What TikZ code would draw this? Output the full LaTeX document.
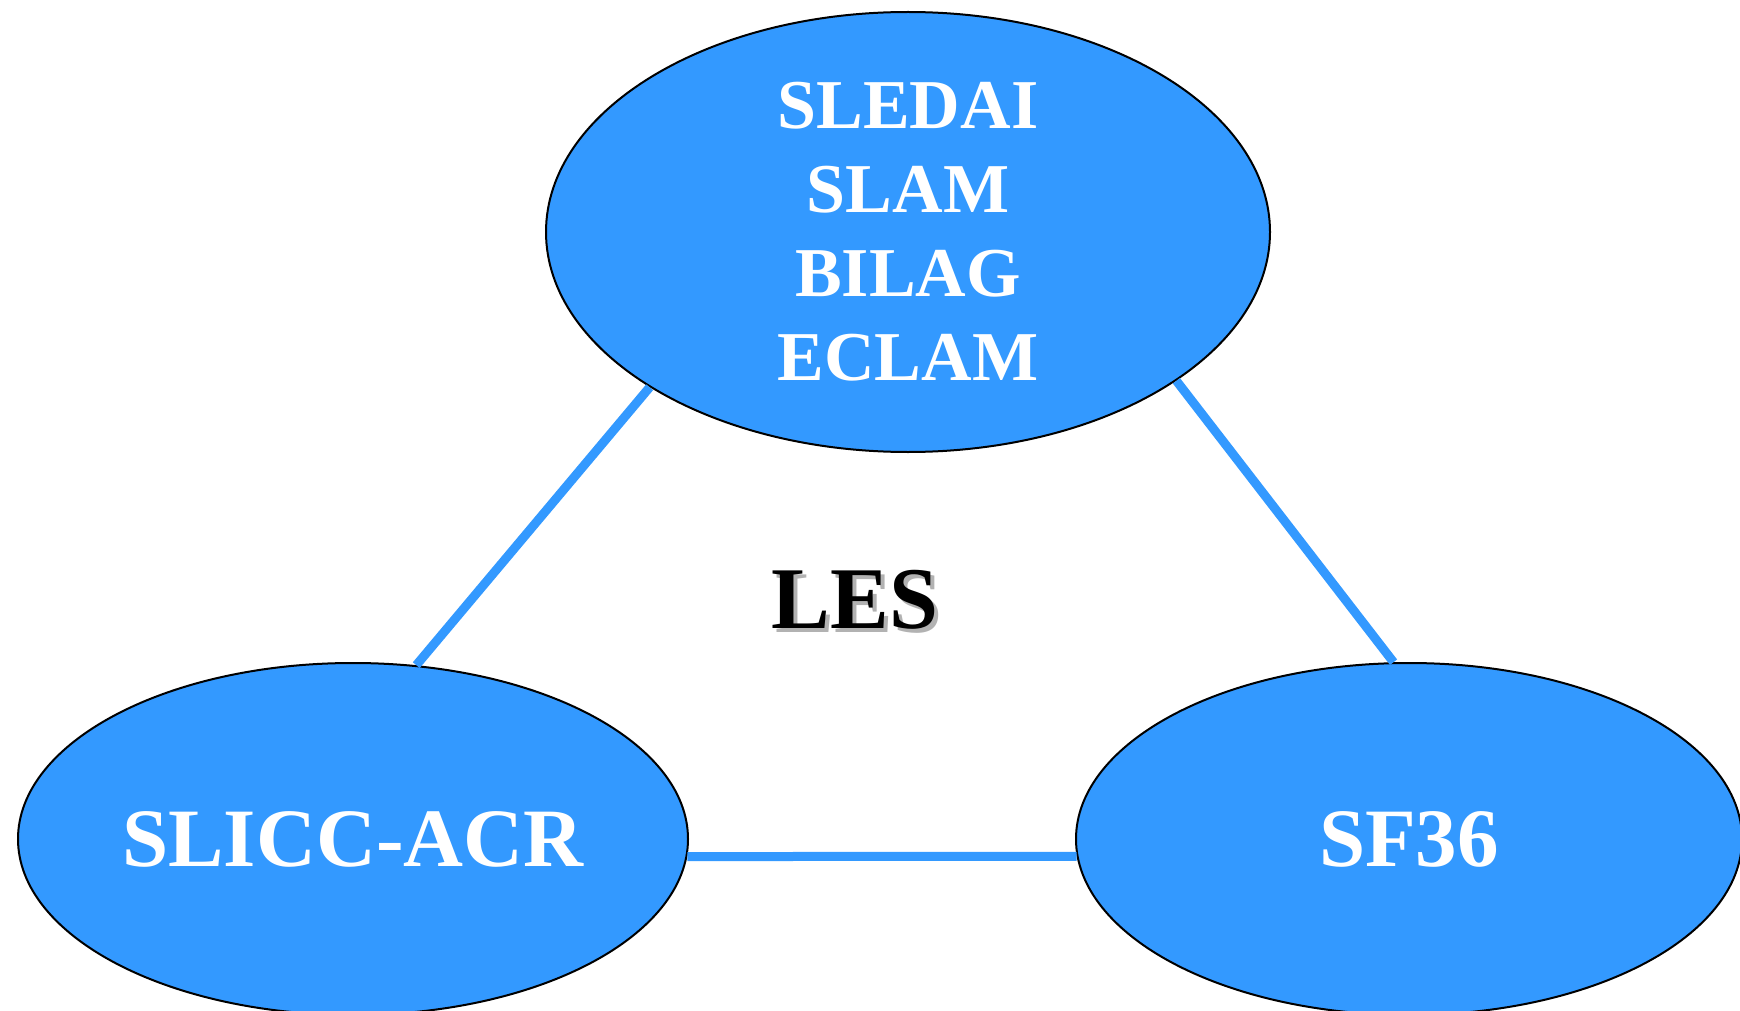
\documentclass[tikz,border=0pt]{standalone}
\usepackage{fontspec}
\setmainfont{Liberation Serif}
\usetikzlibrary{shapes.geometric}
\definecolor{bub}{HTML}{3399FF}
\tikzset{
  bubble/.style={ellipse, draw=black, line width=2pt, fill=bub, inner sep=0pt, text=white, font=\bfseries, align=center},
  link/.style={draw=bub, line width=9pt}
}
\begin{document}
\begin{tikzpicture}[x=1pt,y=-1pt]
\useasboundingbox (0,0) rectangle (1740,1011);
\begin{scope}
\clip (0,0) rectangle (1740,1011);
\node[bubble, minimum width=724pt, minimum height=440pt, font=\fontsize{70}{84}\selectfont\bfseries] (top) at (908,232) {SLEDAI\\SLAM\\BILAG\\ECLAM};
\node[bubble, minimum width=670pt, minimum height=352pt, font=\fontsize{83}{96}\selectfont\bfseries] (left) at (353,839) {SLICC-ACR};
\node[bubble, minimum width=666pt, minimum height=352pt, font=\fontsize{83}{96}\selectfont\bfseries] (right) at (1409,839) {SF36};
\end{scope}
\draw[link] (top.211) -- (left.70.5);
\draw[link] (top.331.5) -- (right.95.5);
\draw[link] (left.-3.2) -- (right.183.2);
\node[text=gray!60, font=\fontsize{88}{96}\selectfont\bfseries] (lesshadow) at (859,604) {LES};
\node[text=black, font=\fontsize{88}{96}\selectfont\bfseries] (les) at (855,600) {LES};
\end{tikzpicture}
\end{document}
